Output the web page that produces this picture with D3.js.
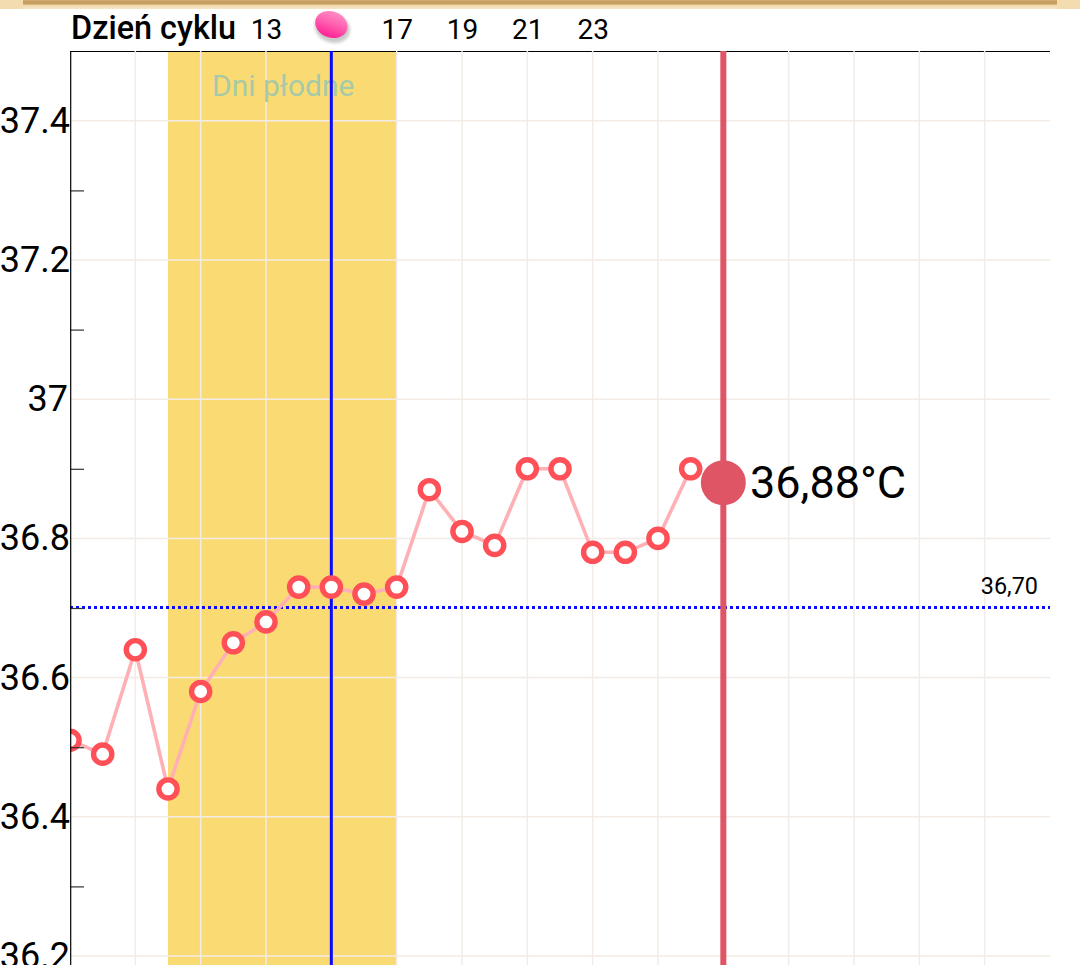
<!DOCTYPE html>
<html><head><meta charset="utf-8">
<script src="https://cdn.jsdelivr.net/npm/d3@7/dist/d3.min.js"></script>
<style>
html,body{margin:0;padding:0;background:#fff;overflow:hidden}
text{font-family:Roboto,sans-serif}
.domain{display:none}
</style></head><body>
<svg id="c" width="1080" height="965"></svg>
<script>
const days = [7,8,9,10,11,12,13,14,15,16,17,18,19,20,21,22,23,24,25,26];
const temps = [36.51,36.49,36.64,36.44,36.58,36.65,36.68,36.73,36.73,36.72,36.73,36.87,36.81,36.79,36.90,36.90,36.78,36.78,36.80,36.90];
const gridDays = [9,11,13,15,17,19,21,23,25,27,29,31,33,35];
const dayLabels = [13,17,19,21,23];
const majorTemps = [37.4,37.2,37.0,36.8,36.6,36.4,36.2];
const minorTemps = [37.3,37.1,36.9,36.7,36.5,36.3];
const fertileDays = [10,17];
const ovulationDay = 15;
const coverline = 36.70;
const currentDay = 27;
const currentTemp = 36.88;

const W=1080,H=965,L=70,R=1050,T=51;
const x=d3.scaleLinear().domain([7,37]).range([L,R]);
const y=d3.scaleLinear().domain([37,36.8]).range([399.2,538.4]);
const svg=d3.select('#c');
const defs=svg.append('defs');
defs.append('clipPath').attr('id','plot').append('rect').attr('x',L).attr('y',T).attr('width',W-L).attr('height',H-T);
const wood=defs.append('linearGradient').attr('id','wood').attr('x1',0).attr('x2',0).attr('y1',0).attr('y2',1);
[[0,'#d8b47a'],[0.12,'#c99e62'],[0.42,'#c99e62'],[0.5,'#d9b67e'],[0.6,'#f0d9ae'],[1,'#f8e8c8']].forEach(s=>wood.append('stop').attr('offset',s[0]).attr('stop-color',s[1]));
const pink=defs.append('linearGradient').attr('id','pink').attr('x1',0).attr('x2',0).attr('y1',0).attr('y2',1);
[[0,'#ff8cc4'],[0.45,'#ff62b0'],[1,'#ff2196']].forEach(s=>pink.append('stop').attr('offset',s[0]).attr('stop-color',s[1]));
defs.append('filter').attr('id','blur').append('feGaussianBlur').attr('stdDeviation',1.6);

// top wooden strip
svg.append('rect').attr('x',0).attr('y',0).attr('width',W).attr('height',9).attr('fill','#f3dcb0');
svg.append('rect').attr('x',23).attr('y',0).attr('width',1034).attr('height',9).attr('fill','url(#wood)');

// fertile window
svg.append('rect').attr('x',x(fertileDays[0])).attr('y',T).attr('width',x(fertileDays[1])-x(fertileDays[0])).attr('height',H-T).attr('fill','#fadb73');

// grid
const gridC='#f3ebe5';
svg.append('g').selectAll('line').data(majorTemps).join('line')
 .attr('x1',L).attr('x2',R).attr('y1',d=>y(d)).attr('y2',d=>y(d)).attr('stroke',gridC).attr('stroke-width',1.5);
svg.append('g').selectAll('line').data(gridDays).join('line')
 .attr('x1',d=>x(d)).attr('x2',d=>x(d)).attr('y1',T).attr('y2',H).attr('stroke',gridC).attr('stroke-width',1.5);

// top line
svg.append('line').attr('x1',L).attr('x2',R).attr('y1',T+0.5).attr('y2',T+0.5).attr('stroke','#000').attr('stroke-width',1);
svg.append('g').selectAll('line').data(gridDays).join('line').attr('x1',d=>x(d)).attr('x2',d=>x(d)).attr('y1',T).attr('y2',T+2).attr('stroke',gridC).attr('stroke-width',1.5);

// fertile label
svg.append('text').attr('x',212).attr('y',96).attr('font-size',30).attr('fill','#a6c9a8').text('Dni płodne');

// ovulation line
svg.append('line').attr('x1',x(ovulationDay)).attr('x2',x(ovulationDay)).attr('y1',T).attr('y2',H).attr('stroke','#0a0aff').attr('stroke-width',3);

// coverline
svg.append('line').attr('x1',L).attr('x2',R).attr('y1',y(coverline)-0.5).attr('y2',y(coverline)-0.5).attr('stroke','#0a0aff').attr('stroke-width',3).attr('stroke-dasharray','3 3');
svg.append('text').attr('x',1038).attr('y',594).attr('text-anchor','end').attr('font-size',23.4).attr('fill','#000').text(d3.format('.2f')(coverline).replace('.',','));

// current-day line
svg.append('line').attr('x1',x(currentDay)).attr('x2',x(currentDay)).attr('y1',T).attr('y2',H).attr('stroke','#e05565').attr('stroke-width',6);

// series
const gp=svg.append('g').attr('clip-path','url(#plot)');
const pts=days.map((d,i)=>[d,temps[i]]);
gp.append('path').attr('d',d3.line().x(d=>x(d[0])).y(d=>y(d[1]))(pts)).attr('fill','none').attr('stroke','#ffb0b4').attr('stroke-width',3.6);

// left axis minor ticks (under the markers)
const minor=svg.append('g').attr('transform',`translate(${L},0)`).call(d3.axisRight(y).tickValues(minorTemps).tickSize(14).tickFormat(''));
minor.selectAll('line').attr('stroke','#333').attr('stroke-width',1.2);

gp.selectAll('circle').data(pts).join('circle').attr('cx',d=>x(d[0])).attr('cy',d=>y(d[1])).attr('r',9.1).attr('fill','#fff').attr('stroke','#ff5058').attr('stroke-width',5.4);

// current value
svg.append('circle').attr('cx',x(currentDay)).attr('cy',y(currentTemp)).attr('r',22.5).attr('fill','#e05565');
svg.append('text').attr('x',750).attr('y',498).attr('font-size',45).attr('fill','#000').text(d3.format('.2f')(currentTemp).replace('.',',')+'°C');

// left axis
svg.append('line').attr('x1',L+0.7).attr('x2',L+0.7).attr('y1',T).attr('y2',H).attr('stroke','#000').attr('stroke-width',1.2);
const yAxis=svg.append('g').attr('transform',`translate(${L},0)`).call(d3.axisLeft(y).tickValues(majorTemps).tickSize(0).tickPadding(0).tickFormat(d=>d===37?'37':d3.format('.1f')(d)));
yAxis.selectAll('text').attr('font-size',36).attr('font-family','Roboto,sans-serif').attr('fill','#000').attr('dy','11.5px').attr('dx',d=>d===37?-2:0);

// top axis
const xAxis=svg.append('g').attr('transform','translate(0,39)').call(d3.axisTop(x).tickValues(dayLabels).tickSize(0).tickPadding(0).tickFormat(d3.format('d')));
xAxis.selectAll('text').attr('font-size',28).attr('font-family','Roboto,sans-serif').attr('fill','#000').attr('dy',0);
svg.append('text').attr('x',71).attr('y',39).attr('font-size',32.4).attr('font-weight',500).attr('fill','#000').text('Dzień cyklu');

// ovulation marker
const ox=x(ovulationDay);
svg.append('ellipse').attr('cx',ox+1).attr('cy',28).attr('rx',18).attr('ry',14.5).attr('transform',`rotate(20 ${ox+1} 28)`).attr('fill','#c9c9c9').attr('filter','url(#blur)');
svg.append('ellipse').attr('cx',ox).attr('cy',24.5).attr('rx',16.5).attr('ry',13).attr('transform',`rotate(20 ${ox} 24.5)`).attr('fill','url(#pink)');
</script>
</body></html>
